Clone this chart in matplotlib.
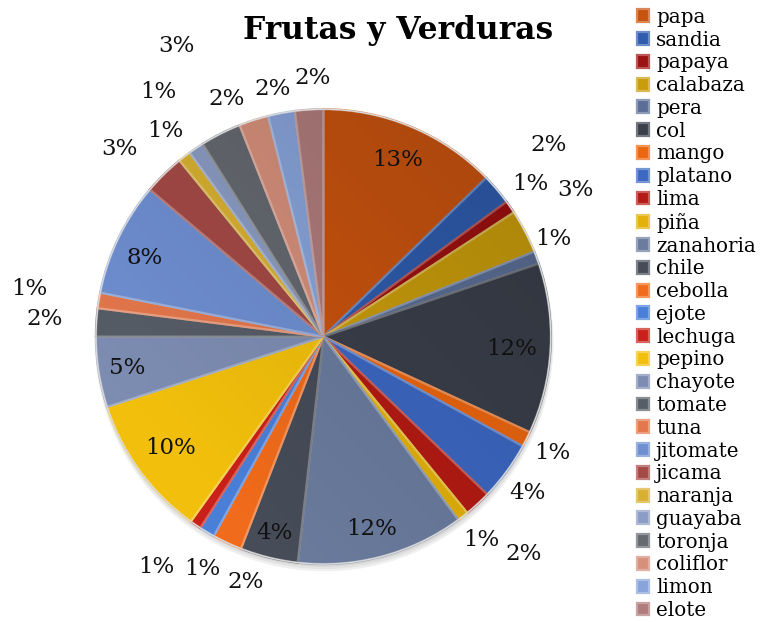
import matplotlib

matplotlib.use("Agg")
import matplotlib.pyplot as plt  # noqa: E402
import numpy as np  # noqa: E402
from matplotlib.patches import Circle  # noqa: E402


categories = [
    "papa", "sandia", "papaya", "calabaza", "pera", "col", "mango", "platano", "lima",
    "piña", "zanahoria", "chile", "cebolla", "ejote", "lechuga", "pepino", "chayote",
    "tomate", "tuna", "jitomate", "jicama", "naranja", "guayaba", "toronja", "coliflor",
    "limon", "elote",
]
shares = [
    12.7, 2.2, 0.9, 3.1, 0.9, 12.1, 1.1, 4.2, 1.9,
    0.8, 11.9, 4.1, 2.1, 1.1, 0.8, 10.1, 5.0,
    2.0, 1.1, 8.1, 2.9, 0.9, 1.1, 2.9, 2.1,
    1.9, 2.0,
]

colors = [
    "#c8530f", "#2f5cad", "#9c1111", "#c99c0c", "#5b6f96", "#3a3f4a", "#ec660f", "#3c68c2", "#b31b14",
    "#e3b10a", "#6a7b9d", "#464c58", "#f06b1b", "#4a7fd8", "#c92119", "#f2c00c", "#7d8db2",
    "#575d67", "#e4774c", "#6f8fd1", "#a44a46", "#d9b132", "#8b9dc4", "#656970", "#d6907b",
    "#88a4da", "#b07c7c",
]

# label distance (fraction of radius) and shift (deg, clockwise) per slice
label_dist = [
    0.845, 1.30, 1.13, 1.28, 1.10, 0.83, 1.13, 1.13, 1.30,
    1.13, 0.87, 0.89, 1.13, 1.15, 1.25, 0.83, 0.875,
    1.23, 1.31, 0.86, 1.22, 1.14, 1.30, 1.43, 1.13,
    1.11, 1.14,
]
label_shift = [
    0, 0, -1.7, -2.6, -2.7, 0.8, 0, 1.1, 0,
    0, 0.9, 0, -7.5, -3.3, 1.8, 0, 0,
    0, 0, -2, -2.9, 0, 0, 0, -4.4,
    -0.9, 1.3,
]


def lighten(hex_color, amount):
    rgb = np.array(matplotlib.colors.to_rgb(hex_color))
    return tuple(rgb + (1 - rgb) * amount)


fig = plt.figure(figsize=(7.71, 6.22), dpi=100)
ax = fig.add_axes([-0.0083, -0.0714, 0.8554, 1.0603])

# faint drop shadow under the pie
for k, a in enumerate([0.05, 0.05, 0.06]):
    ax.add_patch(Circle((0.004, -0.012 - 0.006 * k), 1.0 + 0.004 * k,
                        color="black", alpha=a, linewidth=0, zorder=0))

wedges, _ = ax.pie(
    shares,
    colors=colors,
    startangle=90,
    counterclock=False,
    wedgeprops={"linewidth": 1.6},
)
for wedge, color in zip(wedges, colors):
    wedge.set_edgecolor(lighten(color, 0.3))

# soft light/shade over the pie, like the bevel look of the original
yy, xx = np.mgrid[-1:1:300j, -1:1:300j]
shade = np.zeros((300, 300, 4))
t = (xx - yy) / 2.0
shade[..., 3] = np.clip(0.06 + 0.10 * t, 0, 1)
img = ax.imshow(shade, extent=(-1, 1, -1, 1), origin="upper", zorder=3)
img.set_clip_path(Circle((0, 0), 1.0, transform=ax.transData))
ax.add_patch(Circle((0, 0), 1.0, fill=False, edgecolor="#d9d9d9", linewidth=1.0, zorder=4))

total = sum(shares)
for wedge, value, dist, shift in zip(wedges, shares, label_dist, label_shift):
    mid = np.deg2rad((wedge.theta1 + wedge.theta2) / 2.0 - shift)
    ax.text(
        dist * np.cos(mid), dist * np.sin(mid),
        f"{100 * value / total:.0f}%",
        ha="center", va="center", fontsize=16.5, family="DejaVu Serif",
        color="#111111", zorder=5, clip_on=False,
    )

ax.set_xlim(-1.45, 1.45)
ax.set_ylim(-1.45, 1.45)
ax.set_aspect("equal")
ax.axis("off")

fig.text(0.516, 0.951, "Frutas y Verduras", ha="center", va="center",
         fontsize=22.5, fontweight="bold", family="DejaVu Serif")

fig.legend(
    wedges, categories,
    loc="upper left", bbox_to_anchor=(0.818, 0.997),
    frameon=False, prop={"family": "DejaVu Serif", "size": 14.3},
    handlelength=0.62, handleheight=0.62, handletextpad=0.35,
    labelspacing=0.19, borderaxespad=0.1, borderpad=0.2,
)

fig.savefig("out.png", dpi=100)
